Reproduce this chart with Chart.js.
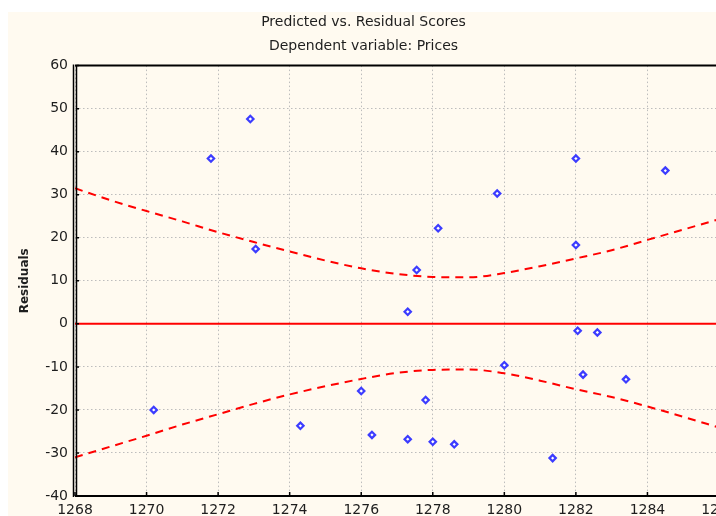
<!DOCTYPE html>
<html>
<head>
<meta charset="utf-8">
<script src="https://cdn.jsdelivr.net/npm/chart.js@4.4.1/dist/chart.umd.min.js"></script>
<style>
  html, body { margin: 0; padding: 0; background: #ffffff; overflow: hidden; width: 716px; height: 516px; }
  #wrap { position: absolute; left: 8px; top: 12px; width: 724px; height: 520px; background: #fffaf0; }
</style>
</head>
<body>
<div id="wrap"><canvas id="chart" width="724" height="520"></canvas></div>
<script>
// predicted values (x) and residuals (y) of the observations
const predicted = [1270.2, 1271.8, 1272.9, 1273.05, 1274.3, 1276.0, 1276.3, 1277.3, 1277.3, 1277.55, 1277.8, 1278.0,
                   1278.15, 1278.6, 1279.8, 1280.0, 1281.35, 1282.0, 1282.0, 1282.05, 1282.2, 1282.6, 1283.4, 1284.5];
const residuals = [-20.0, 38.4, 47.6, 17.4, -23.7, -15.6, -25.8, -26.8, 2.8, 12.5, -17.7, -27.4,
                   22.2, -28.0, 30.3, -9.6, -31.2, 38.4, 18.3, -1.6, -11.8, -2.0, -12.9, 35.6];

// confidence band, read at each unit of the x axis
const bandX     = [1268, 1269, 1270, 1271, 1272, 1273, 1274, 1275, 1276, 1277, 1278, 1279, 1280, 1281, 1282, 1283, 1284, 1285, 1286];
const bandUpper = [31.5, 28.7, 26.2, 23.8, 21.3, 19.0, 16.8, 14.7, 12.9, 11.6, 10.9, 10.8, 11.8, 13.4, 15.2, 17.1, 19.5, 21.9, 24.3];
const bandLower = [-31.0, -28.5, -26.0, -23.4, -21.0, -18.6, -16.4, -14.5, -12.8, -11.4, -10.7, -10.6, -11.5, -13.2, -15.2, -17.0, -19.2, -21.6, -24.1];

const xRange = [1268, 1286];
const yRange = [-40, 60];

const FONT = 'DejaVu Sans';
const INK = '#1e1e1e';

const pts = predicted.map((x, i) => ({ x: x, y: residuals[i] }));
const upper = bandX.map((x, i) => ({ x: x, y: bandUpper[i] }));
const lower = bandX.map((x, i) => ({ x: x, y: bandLower[i] }));
const zero = xRange.map(x => ({ x: x, y: 0 }));

// black frame round the plot with small inward ticks
const frame = {
    id: 'frame',
    afterDatasetsDraw(chart) {
        const { ctx, chartArea: a, scales } = chart;
        ctx.save();
        ctx.strokeStyle = '#000';
        ctx.lineWidth = 2;
        ctx.beginPath();
        ctx.moveTo(a.left, a.top); ctx.lineTo(a.right + 10, a.top);
        ctx.moveTo(a.left, a.bottom); ctx.lineTo(a.right + 10, a.bottom);
        ctx.stroke();
        ctx.lineWidth = 1.5;
        ctx.beginPath();
        ctx.moveTo(a.left - 1.5, a.top - 1); ctx.lineTo(a.left - 1.5, a.bottom + 1);
        ctx.moveTo(a.left + 1.5, a.top); ctx.lineTo(a.left + 1.5, a.bottom);
        ctx.stroke();
        ctx.beginPath();
        scales.y.ticks.forEach(t => {
            const py = scales.y.getPixelForValue(t.value);
            ctx.moveTo(a.left + 1.5, py); ctx.lineTo(a.left + 4, py);
        });
        scales.x.ticks.forEach(t => {
            const px = scales.x.getPixelForValue(t.value);
            ctx.moveTo(px, a.bottom); ctx.lineTo(px, a.bottom - 4);
        });
        ctx.stroke();
        ctx.restore();
    }
};

new Chart(document.getElementById('chart'), {
    type: 'scatter',
    data: {
        datasets: [
            {
                type: 'line',
                data: upper,
                borderColor: '#ff0000',
                borderWidth: 2,
                borderDash: [8, 6],
                pointRadius: 0,
                cubicInterpolationMode: 'monotone',
                fill: false
            },
            {
                type: 'line',
                data: lower,
                borderColor: '#ff0000',
                borderWidth: 2,
                borderDash: [8, 6],
                pointRadius: 0,
                cubicInterpolationMode: 'monotone',
                fill: false
            },
            {
                type: 'line',
                data: zero,
                borderColor: '#ff0000',
                borderWidth: 2,
                pointRadius: 0,
                fill: false
            },
            {
                data: pts,
                pointStyle: 'rectRot',
                pointRadius: 3.2,
                borderWidth: 2.2,
                borderColor: '#3c3cff',
                backgroundColor: '#ffffff'
            }
        ]
    },
    options: {
        responsive: false,
        animation: false,
        layout: { padding: { left: 0, right: 13, top: 0, bottom: 0 } },
        plugins: {
            legend: { display: false },
            tooltip: { enabled: false },
            title: {
                display: true,
                text: 'Predicted vs. Residual Scores',
                color: INK,
                font: { family: FONT, size: 14, weight: 'normal' },
                padding: { top: 2, bottom: 7 }
            },
            subtitle: {
                display: true,
                text: 'Dependent variable: Prices',
                color: INK,
                font: { family: FONT, size: 14, weight: 'normal' },
                padding: { top: 0, bottom: 11 }
            }
        },
        scales: {
            x: {
                type: 'linear',
                min: xRange[0],
                max: xRange[1],
                ticks: {
                    stepSize: 2,
                    color: INK,
                    padding: 6,
                    maxRotation: 0,
                    font: { family: FONT, size: 14 },
                    callback: v => String(v)
                },
                grid: { color: '#bdbdbd', lineWidth: 1, drawTicks: false },
                border: { display: false, dash: [1.5, 2.5] },
                afterFit: s => { s.height = 36; s.paddingLeft = 0; s.paddingRight = 0; }
            },
            y: {
                min: yRange[0],
                max: yRange[1],
                ticks: {
                    stepSize: 10,
                    color: INK,
                    padding: 7,
                    font: { family: FONT, size: 14 },
                    callback: v => String(v)
                },
                grid: { color: '#bdbdbd', lineWidth: 1, drawTicks: false },
                border: { display: false, dash: [1.5, 2.5] },
                title: {
                    display: true,
                    text: 'Residuals',
                    color: INK,
                    font: { family: FONT, size: 12, weight: 'bold' },
                    padding: { top: 10, bottom: 0 }
                },
                afterFit: s => { s.width = 67; }
            }
        }
    },
    plugins: [frame]
});
</script>
</body>
</html>
